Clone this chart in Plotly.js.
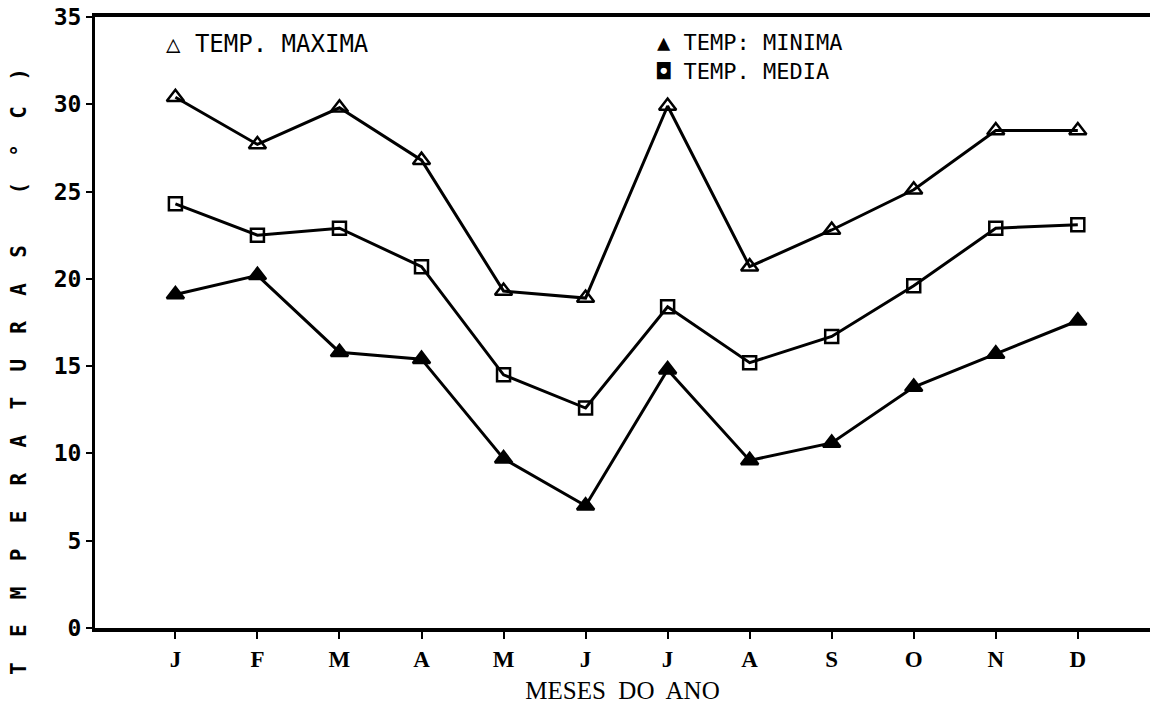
<!DOCTYPE html>
<html><head><meta charset="utf-8">
<script src="https://cdn.plot.ly/plotly-3.0.1.min.js"></script>
<style>html,body{margin:0;padding:0;background:#fff}#chart{width:1153px;height:712px}</style>
</head><body><div id="chart"></div>
<script>
var months = ['J','F','M','A','M','J','J','A','S','O','N','D'];
var monthIndex = [1,2,3,4,5,6,7,8,9,10,11,12];
var tempMaxima = [30.4, 27.7, 29.8, 26.8, 19.3, 18.9, 29.9, 20.7, 22.8, 25.1, 28.5, 28.5];
var tempMedia  = [24.3, 22.5, 22.9, 20.7, 14.5, 12.6, 18.4, 15.2, 16.7, 19.6, 22.9, 23.1];
var tempMinima = [19.1, 20.2, 15.8, 15.4, 9.7, 7.0, 14.8, 9.6, 10.6, 13.8, 15.7, 17.6];
var yTicks = [0,5,10,15,20,25,30,35];

function tr(y, sym, size, name){
  return {x: monthIndex, y: y, mode:'lines+markers', name:name, showlegend:false,
    line:{color:'#000', width:3},
    marker:{symbol:sym, size:size, color:'#000', line:{color:'#000', width:2.5}}, cliponaxis:false};
}
var data = [
  tr(tempMaxima,'triangle-up-open',15,'TEMP. MAXIMA'),
  tr(tempMedia,'square-open',13,'TEMP. MEDIA'),
  tr(tempMinima,'triangle-up',15,'TEMP: MINIMA')
];
var layout = {
  width:1153, height:712,
  margin:{l:95, r:3, t:17, b:84},
  paper_bgcolor:'#fff', plot_bgcolor:'#fff',
  xaxis:{range:[0.02,12.88], tickvals:monthIndex, ticktext:months,
    showline:true, mirror:true, linecolor:'#000', linewidth:4,
    ticks:'outside', ticklen:7, tickwidth:2, tickcolor:'#000',
    showgrid:false, zeroline:false,
    tickfont:{family:'Liberation Serif', size:23, color:'#000', weight:'bold'},
    title:{text:'MESES  DO  ANO', standoff:12, font:{family:'Liberation Serif', size:25, color:'#000'}}},
  yaxis:{range:[0,35], tickvals:yTicks, ticktext:yTicks.map(String),
    showline:true, mirror:false, linecolor:'#000', linewidth:3,
    ticks:'outside', ticklen:6, tickwidth:2, tickcolor:'#000',
    showgrid:false, zeroline:false,
    tickfont:{family:'DejaVu Sans Mono', size:23, color:'#000', weight:'bold'}},
  annotations:[
    {xref:'paper', yref:'paper', x:-0.072, y:0.419, xanchor:'center', yanchor:'middle', textangle:-90,
     text:'T  E  M  P  E  R  A  T  U  R  A  S    (  °  C  )', showarrow:false,
     font:{family:'DejaVu Sans Mono', size:21, color:'#000', weight:'bold'}},
    {xref:'paper', yref:'paper', x:0.065, y:0.955, xanchor:'left', yanchor:'middle',
     text:'△ TEMP. MAXIMA', showarrow:false, font:{family:'DejaVu Sans Mono', size:24, color:'#000'}},
    {xref:'paper', yref:'paper', x:0.53, y:0.982, xanchor:'left', yanchor:'top', align:'left',
     text:'▲ TEMP: MINIMA<br>◘ TEMP. MEDIA', showarrow:false, font:{family:'DejaVu Sans Mono', size:22, color:'#000'}}
  ]
};
Plotly.newPlot('chart', data, layout, {displayModeBar:false, staticPlot:true});
</script></body></html>
